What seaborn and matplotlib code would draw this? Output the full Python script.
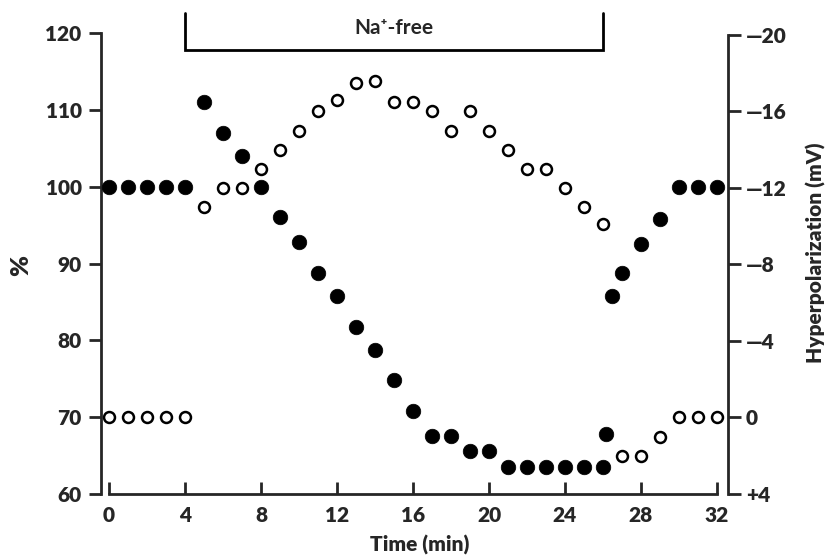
import matplotlib

matplotlib.use('Agg')
import matplotlib.pyplot as plt
import pandas as pd
import seaborn as sns

# filled circles, left axis (%)
time_filled = [0, 1, 2, 3, 4, 5, 6, 7, 8, 9, 10, 11, 12, 13, 14, 15, 16, 17, 18, 19, 20,
               21, 22, 23, 24, 25, 26, 26.15, 26.5, 27, 28, 29, 30, 31, 32]
pct_filled = [100, 100, 100, 100, 100, 111, 107, 104, 100, 96, 92.8, 88.8, 85.8, 81.8, 78.8,
              74.8, 70.8, 67.6, 67.6, 65.6, 65.6, 63.5, 63.5, 63.5, 63.5, 63.5, 63.5, 67.8,
              85.8, 88.7, 92.6, 95.8, 100, 100, 100]

# open circles, right axis (hyperpolarization, mV)
time_open = list(range(33))
mv_open = [0, 0, 0, 0, 0, -11.0, -12.0, -12.0, -13.0, -14.0, -15.0, -16.0, -16.6, -17.5,
           -17.6, -16.5, -16.5, -16.0, -15.0, -16.0, -15.0, -14.0, -13.0, -13.0, -12.0,
           -11.0, -10.1, 2.0, 2.0, 1.0, 0, 0, 0]

x_ticks = [0, 4, 8, 12, 16, 20, 24, 28, 32]
left_ticks = [60, 70, 80, 90, 100, 110, 120]
right_ticks = [-20, -16, -12, -8, -4, 0, 4]
right_labels = ['\u201420', '\u201416', '\u201412', '\u20148', '\u20144', '0', '+4']
na_free = [4, 26]

filled = pd.DataFrame({'time': time_filled, 'pct': pct_filled})
opened = pd.DataFrame({'time': time_open, 'mv': mv_open})

sns.set_style('ticks')
plt.rcParams['font.family'] = ['Lato', 'DejaVu Sans']

fig = plt.figure(figsize=(8.26, 5.56), dpi=100)
ax = fig.add_axes([101 / 826, 1 - 494 / 556, 627 / 826, 461 / 556])
ax2 = ax.twinx()

sns.scatterplot(data=filled, x='time', y='pct', ax=ax, s=110, color='black',
                edgecolor='black', linewidth=0.5, zorder=3, clip_on=False)
sns.scatterplot(data=opened, x='time', y='mv', ax=ax2, s=62, facecolor='white',
                edgecolor='black', linewidth=1.8, zorder=3, clip_on=False)

ax.set_xlim(-0.42, 32.58)
ax.set_ylim(60, 120)
ax2.set_ylim(3.84, -20.10)

for a in (ax, ax2):
    for side in ('top', 'right', 'left', 'bottom'):
        a.spines[side].set_visible(False)

ax.spines['left'].set_visible(True)
ax.spines['left'].set_bounds(60, 120)
ax.spines['left'].set_linewidth(2)
ax.spines['bottom'].set_visible(True)
ax.spines['bottom'].set_bounds(0, 32)
ax.spines['bottom'].set_linewidth(2)
ax2.spines['right'].set_visible(True)
ax2.spines['right'].set_bounds(-20, 4)
ax2.spines['right'].set_linewidth(2)

tick_font = dict(fontsize=15, fontweight='heavy')
ax.set_xticks(x_ticks)
ax.set_xticklabels([str(t) for t in x_ticks], **tick_font)
ax.set_yticks(left_ticks)
ax.set_yticklabels([str(t) for t in left_ticks], **tick_font)
ax2.set_yticks(right_ticks)
ax2.set_yticklabels(right_labels, **tick_font)

ax.tick_params(axis='x', direction='in', length=9, width=2, pad=9)
ax.tick_params(axis='y', direction='out', length=9, width=2, pad=5)
ax2.tick_params(axis='y', direction='out', length=9, width=2, pad=4)

ax.set_xlabel('Time (min)', fontsize=15, fontweight='heavy')
ax.xaxis.set_label_coords((420 - 101) / 627, (494 - 545) / 461)
ax.xaxis.label.set_va('center')
ax.set_ylabel('%', fontsize=18, fontweight='heavy')
ax.yaxis.set_label_coords((21 - 101) / 627, 0.496)
ax.yaxis.label.set_va('center')
ax2.set_ylabel('Hyperpolarization (mV)', fontsize=15, fontweight='heavy')
ax2.yaxis.set_label_coords((816 - 101) / 627, 0.523)
ax2.yaxis.label.set_va('center')

# Na+-free bracket
ax.plot([na_free[0], na_free[0], na_free[1], na_free[1]], [122.6, 117.8, 117.8, 122.6],
        color='black', lw=2, clip_on=False, solid_joinstyle='miter')
ax.text(sum(na_free) / 2, 120.6, 'Na\u207a-free', ha='center', va='center',
        fontsize=15, fontweight='bold')

fig.savefig('out.png', dpi=100)
plt.close(fig)
